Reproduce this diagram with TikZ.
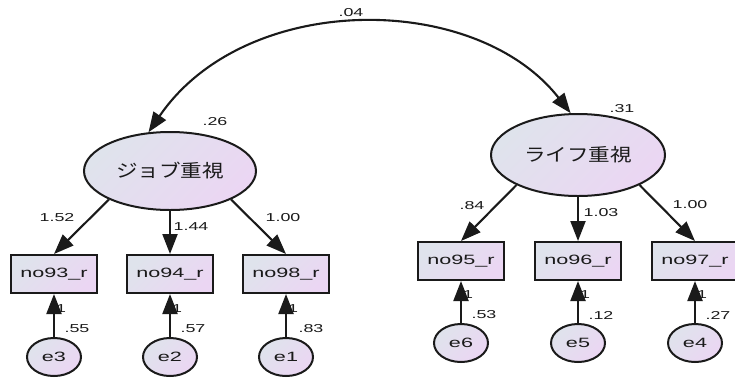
\documentclass[tikz,border=0pt]{standalone}
\usepackage{fontspec}
\setmainfont{Liberation Sans}
\newfontfamily\boxfont[FakeStretch=1.6]{Liberation Sans}
\newfontfamily\valfont[FakeStretch=1.55]{Liberation Sans}
\newfontfamily\jpfont[FakeStretch=1.2]{Noto Sans CJK JP}
\usetikzlibrary{arrows.meta,shapes.geometric}

\definecolor{fillA}{HTML}{DFE3EC}
\definecolor{fillB}{HTML}{EBD6F3}
\definecolor{ink}{HTML}{1A1A1A}

\tikzset{
  shaded/.style={top color=fillA, bottom color=fillB, shading angle=45},
  latent/.style={ellipse, draw=ink, line width=2pt, shaded, inner sep=0pt,
    font=\jpfont\fontsize{18}{18}\selectfont, text=ink},
  observed/.style={rectangle, draw=ink, line width=2pt, shaded, inner sep=0pt,
    minimum width=86, minimum height=38,
    font=\boxfont\fontsize{13.5}{13.5}\selectfont, text=ink},
  errvar/.style={ellipse, draw=ink, line width=2pt, shaded, inner sep=0pt,
    minimum width=54, minimum height=38,
    font=\boxfont\fontsize{13.5}{13.5}\selectfont, text=ink},
  val/.style={inner sep=0pt, font=\valfont\fontsize{11.5}{11.5}\selectfont, text=ink},
  regpath/.style={draw=ink, line width=2.1pt, -{Triangle[length=20pt,width=15pt]}},
  covpath/.style={draw=ink, line width=2.1pt,
    {Triangle[length=20pt,width=15pt]}-{Triangle[length=20pt,width=15pt]}},
}

\begin{document}
\begin{tikzpicture}[x=1pt, y=-1pt]
\useasboundingbox (0,0) rectangle (735,381);

% latent factors
\node[latent, minimum width=172, minimum height=78] (jl) at (170,171) {ジョブ重視};
\node[latent, minimum width=174, minimum height=82] (jr) at (578,155) {ライフ重視};

% observed indicators
\node[observed] (b93) at (54,274)  {no93\_r};
\node[observed] (b94) at (170,274) {no94\_r};
\node[observed] (b98) at (286,274) {no98\_r};
\node[observed] (b95) at (461,261) {no95\_r};
\node[observed] (b96) at (578,261) {no96\_r};
\node[observed] (b97) at (695,261) {no97\_r};

% error terms
\node[errvar] (e3) at (54,357)  {e3};
\node[errvar] (e2) at (170,357) {e2};
\node[errvar] (e1) at (286,357) {e1};
\node[errvar] (e6) at (461,343) {e6};
\node[errvar] (e5) at (578,343) {e5};
\node[errvar] (e4) at (695,343) {e4};

% fixed error loadings
\node[val] (f3) at (61,309)  {1};
\node[val] (f2) at (177,309) {1};
\node[val] (f1) at (293,309) {1};
\node[val] (f6) at (468,295) {1};
\node[val] (f5) at (585,295) {1};
\node[val] (f4) at (702,295) {1};

% factor covariance
\coordinate (c1) at (245,-9);
\coordinate (c2) at (475,-9);
\path[covpath] (jl.119) .. controls (c1) and (c2) .. (jr.100);

% factor loadings
\path[regpath] (jl.205) -- (b93.north);
\path[regpath] (jl.south) -- (b94.north);
\path[regpath] (jl.335) -- (b98.north);
\path[regpath] (jr.206) -- (b95.north);
\path[regpath] (jr.south) -- (b96.north);
\path[regpath] (jr.334) -- (b97.north);

% error paths
\path[regpath] (e3.north) -- (b93.south);
\path[regpath] (e2.north) -- (b94.south);
\path[regpath] (e1.north) -- (b98.south);
\path[regpath] (e6.north) -- (b95.south);
\path[regpath] (e5.north) -- (b96.south);
\path[regpath] (e4.north) -- (b97.south);

% estimates
\node[val] (vcov) at (351,13)  {.04};
\node[val] (vjl)  at (215,122) {.26};
\node[val] (vjr)  at (622,109) {.31};
\node[val] (l93)  at (57,218)  {1.52};
\node[val] (l94)  at (191,227) {1.44};
\node[val] (l98)  at (283,218) {1.00};
\node[val] (l95)  at (472,206) {.84};
\node[val] (l96)  at (601,213) {1.03};
\node[val] (l97)  at (690,205) {1.00};
\node[val] (r93)  at (77,329)  {.55};
\node[val] (r94)  at (193,329) {.57};
\node[val] (r98)  at (311,329) {.83};
\node[val] (r95)  at (484,315) {.53};
\node[val] (r96)  at (601,315) {.12};
\node[val] (r97)  at (718,315) {.27};
\end{tikzpicture}
\end{document}
